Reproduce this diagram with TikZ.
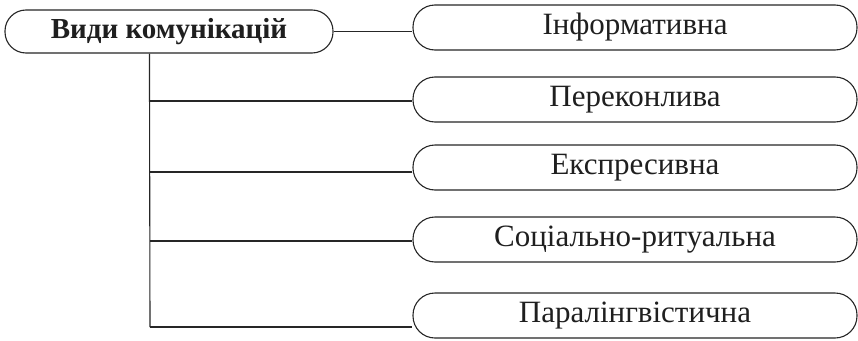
\documentclass[tikz,border=0pt]{standalone}
\usepackage{fontspec}
\setmainfont{Liberation Serif}
\usetikzlibrary{backgrounds,calc}

\tikzset{
  pill/.style={draw=black!85, line width=1.1pt, fill=white,
    inner sep=0pt, text=black!88, font=\fontsize{31}{34}\selectfont},
  headbox/.style={pill, rounded corners=21pt, minimum width=328pt, minimum height=43pt,
    font=\fontsize{29}{34}\selectfont\bfseries},
  kindbox/.style={pill, rounded corners=22pt, minimum width=444pt, minimum height=45pt},
  link/.style={draw=black!85, line width=1.1pt}
}

\begin{document}
\begin{tikzpicture}[x=1pt, y=-1pt]
  \useasboundingbox (0,0) rectangle (858,340);

  % root and the five kinds
  \node[headbox] (main) at (169,31.5) {Види комунікацій};
  \node[kindbox] (t1) at (635,27.5)  {Інформативна};
  \node[kindbox] (t2) at (635,99.5)  {Переконлива};
  \node[kindbox] (t3) at (635,167.5) {Експресивна};
  \node[kindbox] (t4) at (635,239.5) {Соціально-ритуальна};
  \node[kindbox] (t5) at (635,315.5) {Паралінгвістична};

  % trunk and branch points
  \coordinate (top) at ($(main.south west)+(145,0)$);
  \coordinate (b2) at (150,101);
  \coordinate (b3) at (150,172);
  \coordinate (b4) at (150,241);
  \coordinate (b5) at (150,327);

  \begin{pgfonlayer}{background}
    \draw[link] (main.east) -- (main.east -| t1.west);
    \draw[link] (top) -- (b5);
    \draw[link] (b2) -- (b2 -| t2.west);
    \draw[link] (b3) -- (b3 -| t3.west);
    \draw[link] (b4) -- (b4 -| t4.west);
    \draw[link] (b5) -- (b5 -| t5.west);
  \end{pgfonlayer}
\end{tikzpicture}
\end{document}
